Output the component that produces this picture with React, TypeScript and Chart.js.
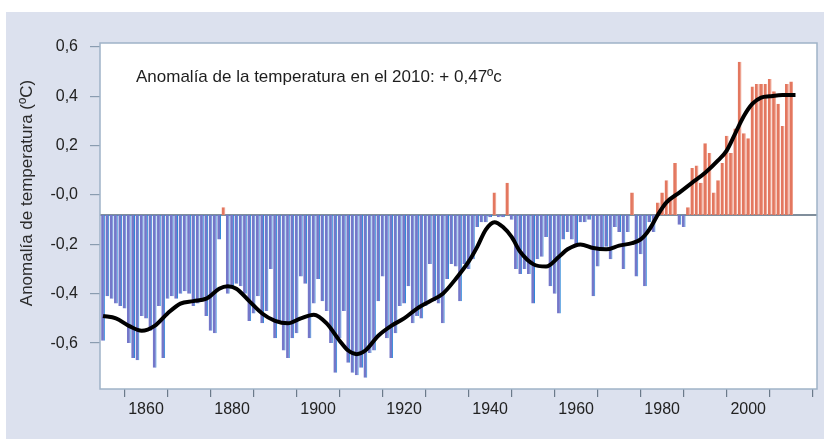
import React, { useEffect, useRef } from "react";
import { Chart, registerables } from "chart.js";

Chart.register(...registerables);

const START_YEAR = 1850;
const BASELINE = -0.081;

const anomalies = [
  -0.59, -0.41, -0.42, -0.44, -0.45, -0.46, -0.60, -0.66, -0.67, -0.49,
  -0.50, -0.55, -0.70, -0.45, -0.66, -0.42, -0.41, -0.42, -0.40, -0.39,
  -0.40, -0.45, -0.44, -0.42, -0.49, -0.55, -0.56, -0.18, -0.05, -0.40,
  -0.38, -0.36, -0.37, -0.40, -0.51, -0.48, -0.41, -0.52, -0.47, -0.30,
  -0.58, -0.51, -0.63, -0.66, -0.58, -0.56, -0.33, -0.36, -0.58, -0.44,
  -0.34, -0.43, -0.47, -0.60, -0.72, -0.58, -0.47, -0.68, -0.72, -0.73,
  -0.70, -0.74, -0.64, -0.63, -0.43, -0.33, -0.58, -0.66, -0.56, -0.45,
  -0.44, -0.37, -0.52, -0.49, -0.50, -0.45, -0.28, -0.43, -0.44, -0.52,
  -0.34, -0.28, -0.29, -0.43, -0.28, -0.30, -0.26, -0.13, -0.11, -0.11,
  -0.09, 0.01, -0.09, -0.09, 0.05, -0.10, -0.30, -0.32, -0.30, -0.32,
  -0.44, -0.26, -0.25, -0.17, -0.37, -0.40, -0.48, -0.18, -0.15, -0.18,
  -0.21, -0.11, -0.11, -0.10, -0.41, -0.29, -0.22, -0.21, -0.26, -0.13,
  -0.15, -0.30, -0.15, 0.01, -0.33, -0.24, -0.37, -0.11, -0.15, -0.03,
  0.01, 0.06, -0.01, 0.13, -0.12, -0.13, -0.05, 0.11, 0.12, 0.05,
  0.21, 0.17, 0.01, 0.06, 0.13, 0.24, 0.17, 0.27, 0.54, 0.25,
  0.23, 0.44, 0.45, 0.45, 0.45, 0.47, 0.42, 0.37, 0.28, 0.45,
  0.46,
];

const smoothYears = [
  1850, 1853, 1856, 1859, 1862, 1865, 1868, 1871, 1874, 1877, 1879, 1881,
  1884, 1887, 1890, 1893, 1896, 1899, 1902, 1905, 1907, 1909, 1911, 1914,
  1917, 1920, 1923, 1926, 1929, 1932, 1935, 1937, 1939, 1941, 1943, 1945,
  1947, 1950, 1953, 1956, 1958, 1961, 1964, 1967, 1970, 1973, 1975, 1977,
  1979, 1981, 1984, 1987, 1990, 1993, 1995, 1997, 1999, 2001, 2003, 2005,
  2008, 2011,
];
const smoothValues = [
  -0.49, -0.50, -0.53, -0.55, -0.53, -0.48, -0.44, -0.43, -0.42, -0.38, -0.37, -0.38,
  -0.43, -0.48, -0.51, -0.52, -0.50, -0.485, -0.52, -0.59, -0.63, -0.645, -0.63, -0.57,
  -0.53, -0.50, -0.46, -0.43, -0.40, -0.34, -0.27, -0.21, -0.14, -0.11, -0.13, -0.17,
  -0.23, -0.28, -0.29, -0.25, -0.22, -0.20, -0.215, -0.22, -0.205, -0.195, -0.18, -0.14,
  -0.08, -0.03, 0.01, 0.05, 0.09, 0.14, 0.18, 0.25, 0.32, 0.37, 0.395, 0.40,
  0.405, 0.405,
];

const yTickValues = [-0.6, -0.4, -0.2, 0, 0.2, 0.4, 0.6];
const yTickLabels = ["-0,6", "-0,4", "-0,2", "-0,0", "0,2", "0,4", "0,6"];
const xTickYears = [1850, 1860, 1870, 1880, 1890, 1900, 1910, 1920, 1930, 1940, 1950, 1960, 1970, 1980, 1990, 2000, 2010];
const xLabelYears = [1860, 1880, 1900, 1920, 1940, 1960, 1980, 2000];

const yAxisTitle = "Anomalía de temperatura (ºC)";
const annotationText = "Anomalía de la temperatura en el 2010: + 0,47ºc";

const FONT = "'Liberation Sans', Arial, sans-serif";

export default function App() {
  const ref = useRef<HTMLCanvasElement | null>(null);

  useEffect(() => {
    if (!ref.current) return;

    const barData = anomalies.map((v, i) => ({ x: START_YEAR + i, y: [BASELINE, v] }));
    const barColors = anomalies.map((v) => (v >= BASELINE ? "#e3775f" : "#7477c9"));
    const barBorders = anomalies.map((v) => (v >= BASELINE ? "#ee9a85" : "#2f8ad9"));
    const lineData = smoothYears.map((y, i) => ({ x: y, y: smoothValues[i] }));

    const backgroundPlugin = {
      id: "bgPanel",
      beforeDraw(chart: any) {
        const { ctx, chartArea } = chart;
        ctx.save();
        ctx.fillStyle = "#ffffff";
        ctx.fillRect(0, 0, chart.width, chart.height);
        ctx.fillStyle = "#dce1ee";
        ctx.fillRect(6, 12, chart.width - 6, chart.height - 12);
        ctx.fillStyle = "#ffffff";
        ctx.fillRect(chartArea.left, chartArea.top, chartArea.right - chartArea.left, chartArea.bottom - chartArea.top);
        ctx.restore();
      },
      beforeDatasetsDraw(chart: any) {
        const { ctx, chartArea, scales } = chart;
        const yb = scales.y.getPixelForValue(BASELINE);
        ctx.save();
        ctx.strokeStyle = "#56687b";
        ctx.lineWidth = 1.5;
        ctx.beginPath();
        ctx.moveTo(chartArea.left, yb);
        ctx.lineTo(chartArea.right, yb);
        ctx.stroke();
        ctx.restore();
      },
      afterDraw(chart: any) {
        const { ctx, chartArea } = chart;
        ctx.save();
        ctx.strokeStyle = "#9fb3c7";
        ctx.lineWidth = 1.5;
        ctx.strokeRect(chartArea.left, chartArea.top, chartArea.right - chartArea.left, chartArea.bottom - chartArea.top);

        ctx.fillStyle = "#1e1e1e";
        ctx.font = `17px ${FONT}`;
        ctx.textAlign = "left";
        ctx.textBaseline = "middle";
        ctx.fillText(annotationText, chartArea.left + 36, chartArea.top + 34);

        ctx.translate(27, 193);
        ctx.rotate(-Math.PI / 2);
        ctx.font = `17px ${FONT}`;
        ctx.textAlign = "center";
        ctx.fillStyle = "#2a2a2a";
        ctx.fillText(yAxisTitle, 0, 0);
        ctx.restore();
      },
    };

    const chart = new Chart(ref.current, {
      type: "bar",
      data: {
        datasets: [
          {
            type: "line",
            data: lineData as any,
            borderColor: "#000000",
            borderWidth: 4,
            pointRadius: 0,
            cubicInterpolationMode: "monotone",
            fill: false,
            order: 0,
          } as any,
          {
            type: "bar",
            data: barData as any,
            backgroundColor: barColors,
            borderColor: barBorders,
            borderWidth: { right: 1, left: 0, top: 0, bottom: 0 },
            borderSkipped: false,
            barPercentage: 0.88,
            categoryPercentage: 1,
            order: 1,
          } as any,
        ],
      },
      options: {
        animation: false,
        responsive: false,
        maintainAspectRatio: false,
        layout: { padding: { left: 0, top: 43, right: 7, bottom: 0 } },
        plugins: { legend: { display: false }, tooltip: { enabled: false }, title: { display: false } },
        scales: {
          x: {
            type: "linear",
            min: 1849.3,
            max: 2016,
            offset: false,
            afterBuildTicks: (scale: any) => {
              scale.ticks = xTickYears.map((v) => ({ value: v }));
            },
            afterFit: (scale: any) => {
              scale.height = 50;
            },
            ticks: {
              autoSkip: false,
              maxRotation: 0,
              padding: 3,
              color: "#222222",
              font: { family: FONT, size: 16 },
              callback: (v: any) => (xLabelYears.includes(Number(v)) ? String(v) : ""),
            },
            grid: { drawOnChartArea: false, tickLength: 8, color: "#6b7a8a", lineWidth: 1.2 },
            border: { display: false },
          },
          y: {
            type: "linear",
            min: -0.786,
            max: 0.616,
            afterBuildTicks: (scale: any) => {
              scale.ticks = yTickValues.map((v) => ({ value: v }));
            },
            afterFit: (scale: any) => {
              scale.width = 100;
            },
            ticks: {
              autoSkip: false,
              padding: 12,
              color: "#222222",
              font: { family: FONT, size: 16 },
              callback: (v: any) => {
                const idx = yTickValues.findIndex((t) => Math.abs(t - Number(v)) < 1e-6);
                return idx >= 0 ? yTickLabels[idx] : "";
              },
            },
            grid: { drawOnChartArea: false, tickLength: 10, color: "#8a9cb0", lineWidth: 1.2 },
            border: { display: false },
          },
        },
      },
      plugins: [backgroundPlugin],
    });

    return () => chart.destroy();
  }, []);

  return (
    <div style={{ position: "fixed", left: 0, top: 0, width: 824, height: 439, background: "#ffffff" }}>
      <canvas ref={ref} width={824} height={439} style={{ display: "block", width: 824, height: 439 }} />
    </div>
  );
}
